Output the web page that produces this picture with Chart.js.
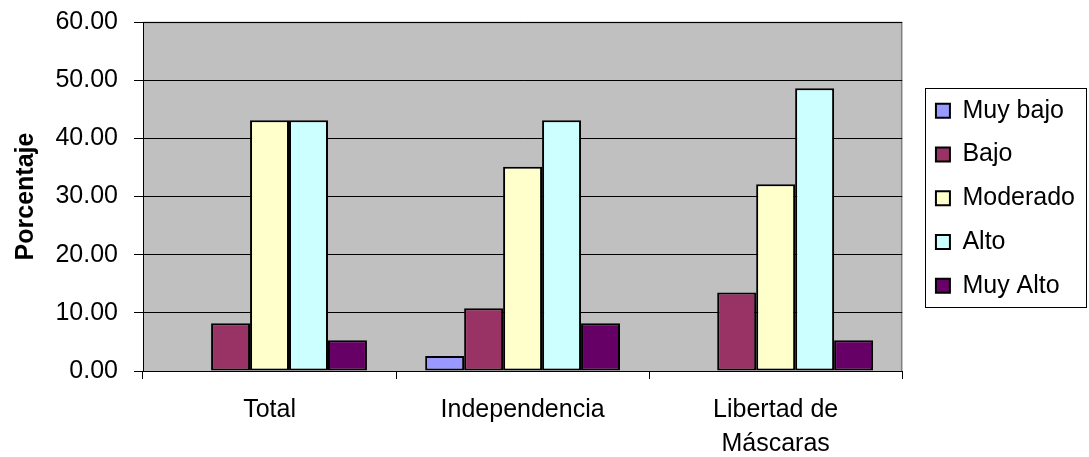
<!DOCTYPE html>
<html>
<head>
<meta charset="utf-8">
<script src="https://cdn.jsdelivr.net/npm/chart.js@4/dist/chart.umd.min.js"></script>
<style>
  html, body { margin: 0; padding: 0; background: #fff; }
  #wrap { width: 1089px; height: 457px; position: relative; }
</style>
</head>
<body>
<div id="wrap"><canvas id="c" width="1089" height="457"></canvas></div>
<script>
const categories = ['Total', 'Independencia', ['Libertad de', 'Máscaras']];
const seriesNames = ['Muy bajo', 'Bajo', 'Moderado', 'Alto', 'Muy Alto'];
const muyBajo  = [0,    2.6,  0];
const bajo     = [8.2,  10.8, 13.5];
const moderado = [43.1, 35.1, 32.1];
const alto     = [43.1, 43.1, 48.6];
const muyAlto  = [5.3,  8.2,  5.3];
const yTicks = [0, 10, 20, 30, 40, 50, 60];
const seriesColors = ['#9999FF', '#993366', '#FFFFCC', '#CCFFFF', '#660066'];

const seriesValues = [muyBajo, bajo, moderado, alto, muyAlto];
const FONT = "'Liberation Sans', Arial, sans-serif";
Chart.defaults.color = '#000';
Chart.defaults.font.family = FONT;

const plotBg = {
  id: 'plotBg',
  beforeDraw(chart) {
    const {ctx, chartArea: a} = chart;
    ctx.save();
    ctx.fillStyle = '#C0C0C0';
    ctx.fillRect(a.left, a.top, a.right - a.left, a.bottom - a.top);
    ctx.strokeStyle = '#808080';
    ctx.lineWidth = 1.5;
    ctx.beginPath();
    ctx.moveTo(a.left, a.top + 0.5);
    ctx.lineTo(a.right - 0.5, a.top + 0.5);
    ctx.lineTo(a.right - 0.5, a.bottom);
    ctx.stroke();
    ctx.restore();
  }
};

const legendBorder = {
  id: 'legendBorder',
  afterDraw(chart) {
    const lg = chart.legend;
    if (!lg || !lg.legendHitBoxes || !lg.legendHitBoxes.length) return;
    const hb = lg.legendHitBoxes;
    const first = hb[0], last = hb[hb.length - 1];
    const ctx = chart.ctx;
    const left = first.left - 11;
    const right = chart.width - 3;
    const top = first.top - 10.5;
    const bottom = last.top + last.height + 8;
    ctx.save();
    ctx.strokeStyle = '#000';
    ctx.lineWidth = 1;
    ctx.strokeRect(Math.round(left) + 0.5, Math.round(top) + 0.5, Math.round(right - left), Math.round(bottom - top));
    ctx.restore();
  }
};

new Chart(document.getElementById('c'), {
  type: 'bar',
  data: {
    labels: categories,
    datasets: seriesNames.map((name, i) => ({
      label: name,
      data: seriesValues[i],
      backgroundColor: seriesColors[i],
      borderColor: '#000',
      borderWidth: 2,
      borderSkipped: false,
      categoryPercentage: 0.77,
      barPercentage: 1.0
    }))
  },
  options: {
    responsive: false,
    animation: false,
    layout: { padding: { top: 22, right: 4, bottom: 0, left: 0 } },
    plugins: {
      tooltip: { enabled: false },
      legend: {
        position: 'right',
        align: 'start',
        title: { display: true, text: '', font: { size: 10, lineHeight: 1 }, padding: { top: 47.5, bottom: 0 } },
        labels: {
          boxWidth: 14,
          boxHeight: 14,
          padding: 18.75,
          color: '#000',
          font: { size: 25, family: FONT }
        }
      }
    },
    scales: {
      x: {
        offset: true,
        grid: { display: true, drawOnChartArea: false, drawTicks: true, tickLength: 8, color: '#000', lineWidth: 1 },
        border: { display: true, color: '#000', width: 1 },
        ticks: { padding: 14, color: '#000', font: { size: 25, family: FONT, lineHeight: 1.36 }, maxRotation: 0, autoSkip: false },
        afterFit(s) { s.height = 86; }
      },
      y: {
        min: 0,
        max: 60,
        afterBuildTicks(s) { s.ticks = yTicks.map(v => ({ value: v })); },
        grid: { color: '#000', lineWidth: 1, tickLength: 9, drawTicks: true },
        border: { display: true, color: '#000', width: 1 },
        ticks: { padding: 16, color: '#000', font: { size: 25, family: FONT }, callback: v => Number(v).toFixed(2) },
        title: { display: true, text: 'Porcentaje', color: '#000', font: { size: 25, weight: 'bold', family: FONT }, padding: { top: 11, bottom: 0 } },
        afterFit(s) { s.width = 143; s.paddingTop = 0; s.paddingBottom = 0; }
      },
      gap: {
        type: 'linear',
        position: 'right',
        display: true,
        grid: { display: false },
        border: { display: false },
        ticks: { display: false },
        afterFit(s) { s.width = 15; s.paddingTop = 0; s.paddingBottom = 0; }
      }
    }
  },
  plugins: [plotBg, legendBorder]
});
</script>
</body>
</html>
